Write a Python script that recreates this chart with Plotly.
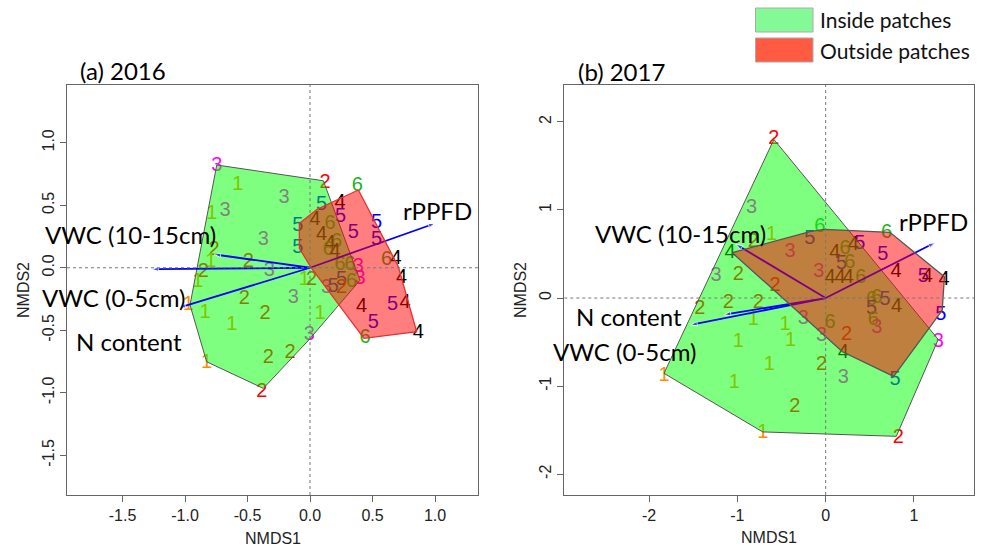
import plotly.graph_objects as go

# ---------------- Panel (a) 2016 : site scores (label = group number) ----------------
a_lab = [3, 1, 3, 1, 3, 3, 2, 1, 2, 2, 1, 3, 1, 2, 1, 1, 2, 3, 2, 1, 1, 3, 2, 2, 1, 2,
         2, 5, 5, 5, 6, 4, 5, 4, 6, 5, 4, 5, 6, 4, 5, 6, 4, 6, 4, 6, 6, 3, 4, 5, 6, 3,
         3, 5, 2, 4, 5, 4, 5, 4, 6]
a_x = [-0.746, -0.578, -0.208, -0.786, -0.680, -0.373, -0.768, -0.794, -0.493, -0.853,
       -0.898, -0.325, -0.045, 0.013, -0.973, -0.840, -0.525, -0.133, -0.360, -0.626,
       0.080, -0.005, -0.333, -0.160, -0.827, -0.386,
       0.120, 0.093, -0.097, -0.097, 0.379, 0.240, 0.245, 0.040, 0.160, 0.533, 0.093,
       0.347, 0.213, 0.160, 0.533, 0.147, 0.200, 0.613, 0.688, 0.240, 0.320, 0.387,
       0.733, 0.253, 0.333, 0.400, 0.133, 0.187, 0.253, 0.413, 0.661, 0.760, 0.507,
       0.867, 0.440]
a_y = [0.814, 0.662, 0.555, 0.430, 0.456, 0.222, 0.142, 0.048, 0.048, -0.037,
       -0.112, -0.024, -0.098, -0.098, -0.298, -0.365, -0.253, -0.245, -0.370, -0.458,
       -0.370, -0.538, -0.725, -0.685, -0.765, -0.992,
       0.680, 0.505, 0.335, 0.155, 0.654, 0.515, 0.408, 0.382, 0.350, 0.355, 0.262,
       0.275, 0.208, 0.190, 0.222, 0.142, 0.128, 0.062, 0.067, 0.022, 0.022, 0.008,
       -0.085, -0.098, -0.112, -0.093, -0.165, -0.152, -0.165, -0.312, -0.298, -0.280,
       -0.445, -0.520, -0.565]

# convex hulls (Inside / Outside patches)
a_in_x = [-0.746, 0.107, 0.400, -0.005, -0.373, -0.827, -0.960]
a_in_y = [0.822, 0.696, -0.100, -0.573, -0.965, -0.752, -0.298]
a_out_x = [0.387, 0.707, 0.853, 0.432, 0.013, -0.085, -0.085, 0.060]
a_out_y = [0.622, 0.008, -0.512, -0.565, -0.005, 0.155, 0.355, 0.470]

# environmental vectors
vec_names = ["rPPFD", "VWC (10-15cm)", "VWC (0-5cm)", "N content"]
a_vx = [1.000, -0.768, -1.048, -1.266]
a_vy = [0.355, 0.107, -0.320, -0.012]
a_lx = [1.020, -1.436, -1.576, -1.452]
a_ly = [0.462, 0.270, -0.235, -0.586]

# ---------------- Panel (b) 2017 ----------------
b_lab = [2, 3, 1, 2, 6, 5, 6, 4, 3, 3, 2, 2, 2, 2, 2, 1, 1, 3, 1, 1, 3, 6, 2, 4, 1, 2,
         3, 5, 1, 1, 2, 1, 2, 3, 5, 4, 5, 4, 5, 5, 4, 6, 4, 5, 6, 3, 4, 4, 4, 6, 6, 6,
         5, 4, 5, 6, 3, 4]
b_x = [-0.586, -0.838, -0.612, -0.820, -0.065, -0.178, 0.690, -1.084, -0.404, -1.242,
       -0.990, -0.574, -1.103, -0.763, -1.424, -0.820, -0.461, -0.254, -0.990, -0.396,
       -0.045, 0.049, 0.238, 0.200, -0.639, -0.045, 0.200, 0.785, -1.831, -1.035,
       -0.348, -0.713, 0.822, 1.275, 1.305, 1.340, 1.105, 0.796, 0.646, 0.388, 0.313,
       0.219, 0.105, 0.181, 0.275, -0.078, 0.049, 0.162, 0.256, 0.398, 0.521, 0.580,
       0.672, 0.804, 0.521, 0.539, 0.578, 1.150]
b_y = [1.800, 1.018, 0.715, 0.640, 0.810, 0.670, 0.734, 0.507, 0.520, 0.250,
       0.260, 0.140, -0.053, -0.060, -0.128, -0.250, -0.306, -0.240, -0.496, -0.490,
       -0.430, -0.280, -0.420, -0.628, -0.760, -0.760, -0.912, -0.930, -0.885, -0.961,
       -1.233, -1.536, -1.593, -0.496, -0.190, 0.204, 0.242, 0.299, 0.488, 0.615, 0.600,
       0.560, 0.507, 0.390, 0.400, 0.290, 0.230, 0.225, 0.230, 0.225, -0.023, 0.000,
       -0.023, -0.100, -0.130, -0.255, -0.344, 0.240]

b_in_x = [-0.586, 1.275, 0.800, -0.713, -1.831]
b_in_y = [1.800, -0.470, -1.570, -1.520, -0.855]
b_out_x = [-1.058, -0.178, -0.019, 0.728, 1.345, 1.320, 0.770, 0.190]
b_out_y = [0.514, 0.753, 0.780, 0.746, 0.240, -0.140, -0.890, -0.610]

b_vx = [1.238, -1.016, -1.150, -1.529]
b_vy = [0.628, 0.610, -0.190, -0.306]
b_lx = [1.224, -1.641, -2.282, -2.225]
b_ly = [0.866, 0.734, -0.609, -0.212]

# axis ticks
a_xticks = [-1.5, -1.0, -0.5, 0.0, 0.5, 1.0]
a_xtext = ["-1.5", "-1.0", "-0.5", "0.0", "0.5", "1.0"]
a_yticks = [-1.5, -1.0, -0.5, 0.0, 0.5, 1.0]
a_ytext = ["-1.5", "-1.0", "-0.5", "0.0", "0.5", "1.0"]
b_xticks = [-2, -1, 0, 1]
b_xtext = ["-2", "-1", "0", "1"]
b_yticks = [-2, -1, 0, 1, 2]
b_ytext = ["-2", "-1", "0", "1", "2"]

group_colors = {1: "#FF8C00", 2: "#FF0000", 3: "#FF00FF", 4: "#000000", 5: "#0000FF", 6: "#18B418"}

NUM_FONT = "Liberation Sans, Arial, sans-serif"
LAB_FONT = "Lato, Open Sans, sans-serif"

fig = go.Figure()

panels = [
    dict(xa="x", ya="y", lab=a_lab, x=a_x, y=a_y, inx=a_in_x, iny=a_in_y,
         outx=a_out_x, outy=a_out_y, outline="#E83030", vx=a_vx, vy=a_vy, lx=a_lx, ly=a_ly),
    dict(xa="x2", ya="y2", lab=b_lab, x=b_x, y=b_y, inx=b_in_x, iny=b_in_y,
         outx=b_out_x, outy=b_out_y, outline="#555555", vx=b_vx, vy=b_vy, lx=b_lx, ly=b_ly),
]

for p in panels:
    # site numbers (drawn first, so the translucent hulls tint them)
    fig.add_trace(go.Scatter(
        x=p["x"], y=p["y"], mode="text", text=[str(v) for v in p["lab"]],
        textfont=dict(family=NUM_FONT, size=20, color=[group_colors[v] for v in p["lab"]]),
        xaxis=p["xa"], yaxis=p["ya"], showlegend=False, hoverinfo="skip"))
    # inside-patches hull
    fig.add_trace(go.Scatter(
        x=p["inx"] + [p["inx"][0]], y=p["iny"] + [p["iny"][0]], mode="lines",
        fill="toself", fillcolor="rgba(0,255,0,0.5)", line=dict(color="#555555", width=1),
        xaxis=p["xa"], yaxis=p["ya"], showlegend=False, hoverinfo="skip"))
    # vectors
    for vx, vy in zip(p["vx"], p["vy"]):
        fig.add_trace(go.Scatter(
            x=[0, vx], y=[0, vy], mode="lines+markers",
            line=dict(color="#0000FF", width=1.8),
            marker=dict(symbol="arrow", angleref="previous", size=[0, 7], color="#0000FF"),
            xaxis=p["xa"], yaxis=p["ya"], showlegend=False, hoverinfo="skip"))
    # outside-patches hull
    fig.add_trace(go.Scatter(
        x=p["outx"] + [p["outx"][0]], y=p["outy"] + [p["outy"][0]], mode="lines",
        fill="toself", fillcolor="rgba(255,0,0,0.5)", line=dict(color=p["outline"], width=1.3),
        xaxis=p["xa"], yaxis=p["ya"], showlegend=False, hoverinfo="skip"))

W, H = 987, 546
def px(x):
    return x / W
def py(y):
    return (H - y) / H

ydom = [py(495), py(85)]
axis_common = dict(showline=True, mirror=True, linecolor="#666666", linewidth=1,
                   ticks="outside", ticklen=6, tickcolor="#666666", showgrid=False,
                   zeroline=False, tickfont=dict(family=NUM_FONT, size=16, color="#222222"))

fig.update_layout(
    width=W, height=H, margin=dict(l=0, r=0, t=0, b=0),
    paper_bgcolor="white", plot_bgcolor="white",
    xaxis=dict(domain=[px(67), px(478)], range=[-1.944, 1.344], anchor="y",
               tickvals=a_xticks, ticktext=a_xtext, **axis_common),
    yaxis=dict(domain=ydom, range=[-1.818, 1.462], anchor="x",
               tickvals=a_yticks, ticktext=a_ytext, tickangle=-90, **axis_common),
    xaxis2=dict(domain=[px(564.3), px(974)], range=[-2.96, 1.68], anchor="y2",
                tickvals=b_xticks, ticktext=b_xtext, **axis_common),
    yaxis2=dict(domain=ydom, range=[-2.236, 2.418], anchor="x2",
                tickvals=b_yticks, ticktext=b_ytext, tickangle=-90, **axis_common),
)

shapes = []
for xa, ya in [("x", "y"), ("x2", "y2")]:
    shapes.append(dict(type="line", xref=xa + " domain", x0=0, x1=1, yref=ya, y0=0, y1=0,
                       line=dict(color="#777777", width=1, dash="dot"), layer="above"))
    shapes.append(dict(type="line", yref=ya + " domain", y0=0, y1=1, xref=xa, x0=0, x1=0,
                       line=dict(color="#777777", width=1, dash="dot"), layer="above"))

# legend boxes
legend_items = ["Inside patches", "Outside patches"]
legend_fill = ["#84FA96", "#FF5A42"]
legend_top = [8, 38]
annotations = []
for name, col, top in zip(legend_items, legend_fill, legend_top):
    shapes.append(dict(type="rect", xref="paper", yref="paper", x0=px(755.5), x1=px(813),
                       y0=py(top + 24), y1=py(top), fillcolor=col,
                       line=dict(color="#AAAAAA", width=1)))
    annotations.append(dict(xref="paper", yref="paper", x=px(818), y=py(top + 12),
                            xanchor="left", yanchor="middle", text=name, showarrow=False,
                            font=dict(family=LAB_FONT, size=21, color="#111111")))

# vector labels
for p in panels:
    for name, lx, ly in zip(vec_names, p["lx"], p["ly"]):
        annotations.append(dict(xref=p["xa"], yref=p["ya"], x=lx, y=ly, text=name,
                                showarrow=False, xanchor="center", yanchor="middle",
                                font=dict(family=LAB_FONT, size=24, color="#000000")))

# panel titles
annotations.append(dict(xref="paper", yref="paper", x=px(78), y=py(71), text="(a) 2016",
                        xanchor="left", yanchor="middle", showarrow=False,
                        font=dict(family=LAB_FONT, size=24, color="#000000")))
annotations.append(dict(xref="paper", yref="paper", x=px(576), y=py(72), text="(b) 2017",
                        xanchor="left", yanchor="middle", showarrow=False,
                        font=dict(family=LAB_FONT, size=24, color="#000000")))
# axis titles
for xc, yc in [(272.5, 538), (769, 537)]:
    annotations.append(dict(xref="paper", yref="paper", x=px(xc), y=py(yc), text="NMDS1",
                            xanchor="center", yanchor="middle", showarrow=False,
                            font=dict(family=NUM_FONT, size=16, color="#222222")))
for xc in [23, 520]:
    annotations.append(dict(xref="paper", yref="paper", x=px(xc), y=py(290), text="NMDS2",
                            xanchor="center", yanchor="middle", showarrow=False, textangle=-90,
                            font=dict(family=NUM_FONT, size=16, color="#222222")))

fig.update_layout(shapes=shapes, annotations=annotations)
fig.write_html("out.html")
